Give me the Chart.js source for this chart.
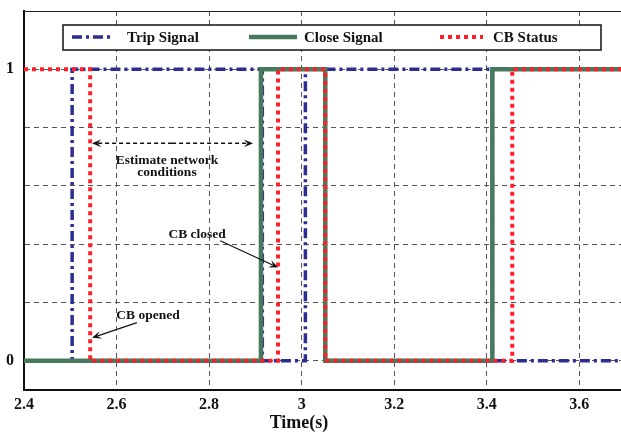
<!DOCTYPE html>
<html>
<head>
<meta charset="utf-8">
<script src="https://cdn.jsdelivr.net/npm/chart.js@4.4.1/dist/chart.umd.min.js"></script>
<style>
    html, body { margin: 0; padding: 0; background: #fff; }
    #wrap { width: 621px; height: 434px; }
</style>
</head>
<body>
<div id="wrap"><canvas id="chart" width="621" height="434"></canvas></div>
<script>
// Step signals: each value holds from its time until the next time
const tripTimes = [2.4, 2.504, 2.915, 3.008, 3.412, 3.7];
const tripValues = [0, 1, 0, 1, 0, 0];
const closeTimes = [2.4, 2.912, 3.051, 3.412, 3.7];
const closeValues = [0, 1, 0, 1, 1];
const statusTimes = [2.4, 2.543, 2.949, 3.051, 3.455, 3.7];
const statusValues = [1, 0, 1, 0, 1, 1];

const xTicks = [2.4, 2.6, 2.8, 3.0, 3.2, 3.4, 3.6];
const yTicks = [0, 0.2, 0.4, 0.6, 0.8, 1.0];
const yLabels = { 0: '0', 1: '1' };

const seriesNames = ['Trip Signal', 'Close Signal', 'CB Status'];

// Text notes placed in data coordinates
const notes = [
    { lines: ['Estimate network', 'conditions'], x: 2.709, y: 0.687, lineGap: 0.042 },
    { lines: ['CB closed'], x: 2.774, y: 0.433 },
    { lines: ['CB opened'], x: 2.668, y: 0.155 }
];
const arrows = [
    { from: [2.72, 0.746], to: [2.547, 0.746], dashed: true },
    { from: [2.72, 0.746], to: [2.895, 0.746], dashed: true },
    { from: [2.824, 0.412], to: [2.949, 0.320] },
    { from: [2.644, 0.131], to: [2.547, 0.079] }
];

const serif = '"Liberation Serif", "Times New Roman", serif';
const toPoints = (times, values) => times.map((t, i) => ({ x: t, y: values[i] }));

const styles = [
    { color: '#2b2d92', width: 3.5, dash: [10, 4, 3, 4] },
    { color: '#477a5c', width: 4.5, dash: [] },
    { color: '#ff1f2b', width: 4, dash: [4, 4] }
];

function drawArrow(ctx, x1, y1, x2, y2, dashed) {
    const ang = Math.atan2(y2 - y1, x2 - x1);
    const head = 10;
    ctx.save();
    ctx.strokeStyle = '#111';
    ctx.fillStyle = '#111';
    ctx.lineWidth = dashed ? 1.5 : 1.2;
    ctx.setLineDash(dashed ? [4, 3] : []);
    ctx.beginPath();
    ctx.moveTo(x1, y1);
    ctx.lineTo(x2 - Math.cos(ang) * head * 0.6, y2 - Math.sin(ang) * head * 0.6);
    ctx.stroke();
    ctx.setLineDash([]);
    // swept-back head
    ctx.beginPath();
    ctx.moveTo(x2, y2);
    ctx.lineTo(x2 - Math.cos(ang - 0.4) * head, y2 - Math.sin(ang - 0.4) * head);
    ctx.lineTo(x2 - Math.cos(ang) * head * 0.55, y2 - Math.sin(ang) * head * 0.55);
    ctx.lineTo(x2 - Math.cos(ang + 0.4) * head, y2 - Math.sin(ang + 0.4) * head);
    ctx.closePath();
    ctx.fill();
    ctx.restore();
}

const overlayPlugin = {
    id: 'overlay',
    afterDraw(chart) {
        const { ctx, chartArea, scales } = chart;
        const xs = scales.x, ys = scales.y;

        // top frame line
        ctx.save();
        ctx.strokeStyle = '#222';
        ctx.lineWidth = 1.2;
        ctx.beginPath();
        ctx.moveTo(chartArea.left, chartArea.top + 0.5);
        ctx.lineTo(chartArea.right, chartArea.top + 0.5);
        ctx.stroke();
        ctx.restore();

        // annotations
        arrows.forEach(a => {
            drawArrow(ctx, xs.getPixelForValue(a.from[0]), ys.getPixelForValue(a.from[1]),
                xs.getPixelForValue(a.to[0]), ys.getPixelForValue(a.to[1]), a.dashed);
        });
        ctx.save();
        ctx.fillStyle = '#111';
        ctx.font = 'bold 13.5px ' + serif;
        ctx.textAlign = 'center';
        ctx.textBaseline = 'middle';
        notes.forEach(n => {
            n.lines.forEach((line, i) => {
                const y = n.y - i * (n.lineGap || 0);
                ctx.fillText(line, xs.getPixelForValue(n.x), ys.getPixelForValue(y));
            });
        });
        ctx.restore();

        // boxed legend
        ctx.save();
        ctx.fillStyle = '#fff';
        ctx.fillRect(63, 25, 538, 25);
        ctx.strokeStyle = '#111';
        ctx.lineWidth = 1.5;
        ctx.strokeRect(63, 25, 538, 25);
        const sampleX = [[72, 113], [249, 297], [440, 483]];
        const textX = [127, 304, 493];
        ctx.font = 'bold 15px ' + serif;
        ctx.textBaseline = 'middle';
        ctx.textAlign = 'left';
        chart.data.datasets.forEach((ds, i) => {
            ctx.strokeStyle = ds.borderColor;
            ctx.lineWidth = ds.borderWidth;
            ctx.setLineDash(ds.borderDash);
            ctx.beginPath();
            ctx.moveTo(sampleX[i][0], 37);
            ctx.lineTo(sampleX[i][1], 37);
            ctx.stroke();
            ctx.setLineDash([]);
            ctx.fillStyle = '#111';
            ctx.fillText(ds.label, textX[i], 38);
        });

        // axis title
        ctx.font = 'bold 18px ' + serif;
        ctx.textAlign = 'center';
        ctx.fillText('Time(s)', 299, 423);
        ctx.restore();
    }
};

const order = [2, 1, 0]; // CB status on top, trip signal underneath
const seriesData = [
    toPoints(tripTimes, tripValues),
    toPoints(closeTimes, closeValues),
    toPoints(statusTimes, statusValues)
];

new Chart(document.getElementById('chart'), {
    type: 'line',
    data: {
        datasets: seriesNames.map((name, i) => ({
            label: name,
            data: seriesData[i],
            stepped: 'before',
            borderColor: styles[i].color,
            borderWidth: styles[i].width,
            borderDash: styles[i].dash,
            borderCapStyle: 'butt',
            pointRadius: 0,
            fill: false,
            order: order[i]
        }))
    },
    options: {
        responsive: false,
        animation: false,
        devicePixelRatio: 1,
        layout: { padding: { top: 11, right: 0, left: 0, bottom: 0 } },
        plugins: {
            legend: { display: false },
            tooltip: { enabled: false }
        },
        scales: {
            x: {
                type: 'linear',
                min: 2.4,
                max: 3.69,
                afterBuildTicks: scale => { scale.ticks = xTicks.map(v => ({ value: v })); },
                afterFit: scale => { scale.height = 44; },
                ticks: {
                    color: '#111',
                    padding: 5,
                    maxRotation: 0,
                    font: { family: serif, size: 16, weight: 'bold' },
                    callback: v => String(Math.round(v * 10) / 10)
                },
                grid: { color: '#555', lineWidth: 1, drawTicks: false },
                border: { color: '#111', width: 2, dash: [5, 4] }
            },
            y: {
                type: 'linear',
                min: -0.1,
                max: 1.2,
                afterBuildTicks: scale => { scale.ticks = yTicks.map(v => ({ value: v })); },
                afterFit: scale => {
                    scale.width = 24;
                    scale.paddingTop = 0;
                    scale.paddingBottom = 0;
                },
                ticks: {
                    color: '#111',
                    padding: 10,
                    font: { family: serif, size: 16, weight: 'bold' },
                    callback: v => yLabels[Math.round(v * 10) / 10] || ''
                },
                grid: { color: '#555', lineWidth: 1, drawTicks: false },
                border: { color: '#111', width: 2, dash: [5, 4] }
            }
        }
    },
    plugins: [overlayPlugin]
});
</script>
</body>
</html>
